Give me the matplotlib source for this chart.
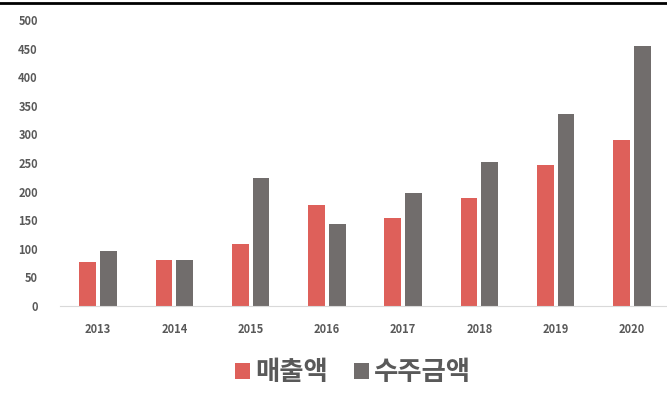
import numpy as np
import matplotlib.pyplot as plt
from matplotlib.lines import Line2D

plt.rcParams['font.family'] = ['Noto Sans CJK KR', 'DejaVu Sans']

years = ['2013', '2014', '2015', '2016', '2017', '2018', '2019', '2020']
sales = [77, 80, 108, 176, 154, 188, 247, 290]
orders = [96, 80, 223, 143, 198, 251, 336, 455]

red = '#DE605A'
gray = '#716D6C'
txt = '#595959'

fig = plt.figure(figsize=(6.67, 3.94), dpi=100)
ax = fig.add_axes([60 / 667, 1 - 306 / 394, 610 / 667, 286 / 394])

x = np.arange(len(years))
w = 0.22
ax.bar(x - w / 2 - 0.025, sales, w, color=red, label='매출액')
ax.bar(x + w / 2 + 0.025, orders, w, color=gray, label='수주금액')

ax.set_xlim(-0.5, len(years) - 0.5)
ax.set_ylim(0, 500)
ax.set_yticks(range(0, 501, 50))
ax.set_xticks(x)
ax.set_xticklabels(years)
ax.tick_params(axis='both', length=0, colors=txt, labelsize=8)
ax.tick_params(axis='x', pad=12)
ax.tick_params(axis='y', pad=16)
for lbl in ax.get_xticklabels() + ax.get_yticklabels():
    lbl.set_fontweight('bold')

for side in ['top', 'right', 'left']:
    ax.spines[side].set_visible(False)
ax.spines['bottom'].set_color('#D9D9D9')

fig.legend(loc='center', bbox_to_anchor=(353 / 667, 1 - 373 / 394), ncol=2,
           frameon=False, handlelength=0.55, handleheight=0.55, handletextpad=0.2,
           columnspacing=1.0, prop={'size': 19, 'weight': 'bold'},
           labelcolor=txt)

# border line across the top
fig.add_artist(Line2D([0, 1], [1 - 2.5 / 394, 1 - 2.5 / 394], color='black', lw=2,
                      transform=fig.transFigure))

fig.savefig('out.png', dpi=100)
plt.close(fig)
